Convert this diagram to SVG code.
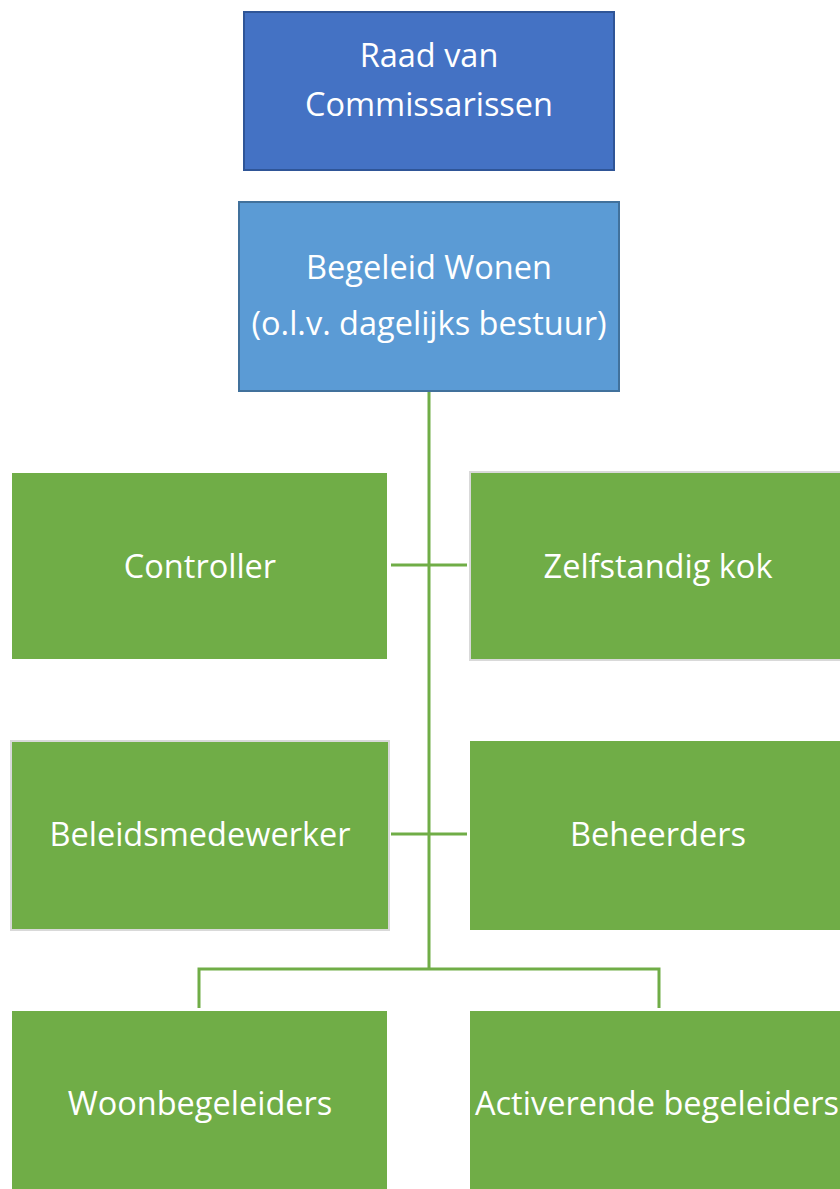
<svg xmlns="http://www.w3.org/2000/svg" width="840" height="1189" viewBox="0 0 840 1189">
<style>
.t{font-family:"Open Sans","Liberation Sans",sans-serif;font-size:32.5px;fill:#fff;text-anchor:middle}
.g{fill:#70AD47}
.gb{fill:#70AD47;stroke:#D9D9D9;stroke-width:2}
.c{stroke:#70AD47;stroke-width:3;fill:none}
</style>
<rect width="840" height="1189" fill="#fff"/>
<g id="connectors">
<path class="c" d="M429 392V969M391 565H467M391 834H467M199 1008V969H659V1008"/>
</g>
<g id="raad">
<rect x="244" y="12" width="370" height="158" fill="#4472C4" stroke="#2F5597" stroke-width="2"/>
<text class="t" x="429" y="67">Raad van</text>
<text class="t" x="429" y="116">Commissarissen</text>
</g>
<g id="begeleid">
<rect x="239" y="202" width="380" height="189" fill="#5B9BD5" stroke="#41719C" stroke-width="2"/>
<text class="t" x="429" y="279">Begeleid Wonen</text>
<text class="t" x="429" y="335">(o.l.v. dagelijks bestuur)</text>
</g>
<g id="controller">
<rect class="g" x="12" y="473" width="375" height="186"/>
<text class="t" x="200" y="578">Controller</text>
</g>
<g id="kok">
<rect class="gb" x="470" y="472" width="375" height="188"/>
<text class="t" x="658" y="578">Zelfstandig kok</text>
</g>
<g id="beleid">
<rect class="gb" x="11" y="741" width="378" height="189"/>
<text class="t" x="200" y="846">Beleidsmedewerker</text>
</g>
<g id="beheerders">
<rect class="g" x="470" y="741" width="375" height="189"/>
<text class="t" x="658" y="846">Beheerders</text>
</g>
<g id="woon">
<rect class="g" x="12" y="1011" width="375" height="185"/>
<text class="t" x="200" y="1115">Woonbegeleiders</text>
</g>
<g id="activerende">
<rect class="g" x="470" y="1011" width="375" height="185"/>
<text class="t" x="657" y="1115">Activerende begeleiders</text>
</g>
</svg>
